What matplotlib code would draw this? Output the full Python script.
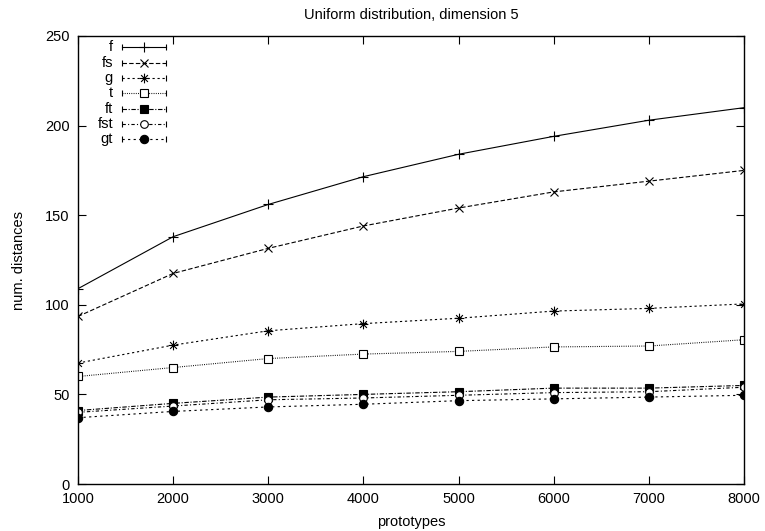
import matplotlib
matplotlib.use("Agg")
import matplotlib.pyplot as plt
from matplotlib.path import Path

plt.rcParams['font.family'] = ['Liberation Sans', 'DejaVu Sans']

prototypes = [1000, 2000, 3000, 4000, 5000, 6000, 7000, 8000]
f_vals   = [109, 138, 156, 171.5, 184, 194, 203, 210]
fs_vals  = [93.5, 117.5, 131.5, 144, 154, 163, 169, 175]
g_vals   = [67.5, 77.5, 85.5, 89.5, 92.5, 96.5, 98, 100.5]
t_vals   = [60, 65, 70, 72.5, 74, 76.5, 77, 80.5]
ft_vals  = [41, 45, 48.5, 50, 51.5, 53.5, 53.5, 55]
fst_vals = [40, 43.5, 47, 48, 49.5, 51, 51.5, 54]
gt_vals  = [37, 40.5, 43, 44.5, 46.5, 47.5, 48.5, 49.5]
series_names = ["f", "fs", "g", "t", "ft", "fst", "gt"]
x_ticks = [1000, 2000, 3000, 4000, 5000, 6000, 7000, 8000]
y_ticks = [0, 50, 100, 150, 200, 250]

asterisk = Path([(-1, 0), (1, 0), (0, -1), (0, 1), (-0.7, -0.7), (0.7, 0.7), (-0.7, 0.7), (0.7, -0.7)],
                [Path.MOVETO, Path.LINETO] * 4)

styles = [
    dict(ls='-', marker='+', ms=7, mfc='black'),
    dict(ls=(0, (4, 2)), marker='x', ms=6, mfc='black'),
    dict(ls=(0, (2, 2.5)), marker=asterisk, ms=7, mfc='black'),
    dict(ls=(0, (0.8, 1.2)), marker='s', ms=6, mfc='white'),
    dict(ls=(0, (4, 1.5, 1, 1.5)), marker='s', ms=6, mfc='black'),
    dict(ls=(0, (3, 2, 1, 2)), marker='o', ms=5.5, mfc='white'),
    dict(ls=(0, (2, 3)), marker='o', ms=6, mfc='black'),
]
data = [f_vals, fs_vals, g_vals, t_vals, ft_vals, fst_vals, gt_vals]

fig = plt.figure(figsize=(7.65, 5.31), dpi=100)
W, H = 765, 531
L, R, T, B = 78, 744, 36, 484
ax = fig.add_axes([L / W, (H - B) / H, (R - L) / W, (B - T) / H])

for vals, st in zip(data, styles):
    ax.plot(prototypes, vals, color='black', lw=0.8, linestyle=st['ls'],
            marker=st['marker'], markersize=st['ms'], markerfacecolor=st['mfc'],
            markeredgecolor='black', markeredgewidth=0.8)

ax.set_xlim(1000, 8000)
ax.set_ylim(0, 250)
ax.set_xticks(x_ticks)
ax.set_yticks(y_ticks)
ax.tick_params(direction='in', length=6, width=0.8, top=True, right=True,
               labelsize=10.5, pad=6)
for s in ax.spines.values():
    s.set_linewidth(1.0)

ax.set_title("Uniform distribution, dimension 5", fontsize=10.5, pad=12)
ax.set_xlabel("prototypes", fontsize=10.5, labelpad=6)
ax.set_ylabel("num. distances", fontsize=10.5, labelpad=14)

# gnuplot-style legend
def ax_x(px):
    return (px - L) / (R - L)

def ax_y(py):
    return (B - py) / (B - T)

rows_y = [47.3, 63.5, 78.5, 93.5, 109, 124, 139]
for name, st, py in zip(series_names, styles, rows_y):
    yy = ax_y(py)
    ax.text(ax_x(113), yy, name, transform=ax.transAxes, ha='right', va='center',
            fontsize=10.5)
    ax.plot([ax_x(122), ax_x(166)], [yy, yy], transform=ax.transAxes, color='black',
            lw=0.8, linestyle=st['ls'], clip_on=False)
    ax.plot([ax_x(122), ax_x(166)], [yy, yy], transform=ax.transAxes, color='black',
            lw=0, marker='|', ms=5, mew=0.8, clip_on=False)
    ax.plot([ax_x(144)], [yy], transform=ax.transAxes, color='black', lw=0,
            marker=st['marker'], markersize=st['ms'], markerfacecolor=st['mfc'],
            markeredgecolor='black', markeredgewidth=0.8, clip_on=False)

fig.savefig("out.png", dpi=100)
